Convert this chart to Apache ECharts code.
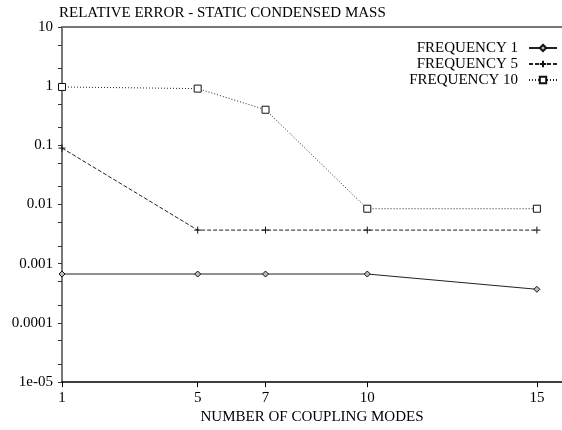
<!DOCTYPE html>
<html>
<head>
<meta charset="utf-8">
<script src="https://cdn.jsdelivr.net/npm/echarts@6/dist/echarts.min.js"></script>
<style>
  html, body { margin: 0; padding: 0; background: #fff; }
  #chart { width: 562px; height: 430px; }
</style>
</head>
<body>
<div id="chart"></div>
<script>
// Number of coupling modes (x positions)
var modes = [1, 5, 7, 10, 15];
// Relative error per retained frequency
var freq1 = [6.7e-4, 6.7e-4, 6.7e-4, 6.7e-4, 3.7e-4];
var freq5 = [0.09, 0.0037, 0.0037, 0.0037, 0.0037];
var freq10 = [0.97, 0.91, 0.40, 0.0085, 0.0085];
// Axis tick labels
var xTicks = [1, 5, 7, 10, 15];
var yTicks = [1e-5, 1e-4, 1e-3, 0.01, 0.1, 1, 10];
var yTickText = ['1e-05', '0.0001', '0.001', '0.01', '0.1', '1', '10'];
var seriesNames = ['FREQUENCY 1', 'FREQUENCY 5', 'FREQUENCY 10'];

var FONT = '"Liberation Serif", "DejaVu Serif", serif';

function pairs(ys) {
  return modes.map(function (m, i) { return [m, ys[i]]; });
}

// minor ticks at 2x and 5x of each decade
var yMinor = [];
yTicks.forEach(function (v, i) {
  yMinor.push(v);
  if (i < yTicks.length - 1) { yMinor.push(v * 2); yMinor.push(v * 5); }
});

var chart = echarts.init(document.getElementById('chart'), null, { renderer: 'canvas' });
chart.setOption({
  animation: false,
  backgroundColor: '#fff',
  title: {
    text: 'RELATIVE ERROR - STATIC CONDENSED MASS',
    left: 59, top: 6, padding: 0,
    textStyle: { fontFamily: FONT, fontSize: 15, fontWeight: 'normal', color: '#000' }
  },
  legend: {
    orient: 'vertical',
    right: 4, top: 40, padding: 0,
    align: 'right',
    itemWidth: 28, itemHeight: 8, itemGap: 0,
    textStyle: {
      fontFamily: FONT, fontSize: 15, color: '#000', width: 112, align: 'right',
      lineHeight: 16, padding: [0, 6, 0, 0]
    },
    data: seriesNames
  },
  grid: { left: 62, right: 0, top: 27, bottom: 41, containLabel: false },
  xAxis: [{
    type: 'value', min: 1, max: 15.74,
    name: 'NUMBER OF COUPLING MODES', nameLocation: 'middle', nameGap: 24,
    nameTextStyle: { fontFamily: FONT, fontSize: 15, color: '#000' },
    axisLine: { lineStyle: { color: '#000', width: 1.5 } },
    axisTick: { show: true, length: 5, customValues: xTicks, lineStyle: { color: '#000' } },
    axisLabel: { customValues: xTicks, margin: 8, fontFamily: FONT, fontSize: 15, color: '#000' },
    splitLine: { show: false }
  }, {
    type: 'value', position: 'top', min: 1, max: 15.74,
    axisLine: { show: true, lineStyle: { color: '#777', width: 2 } },
    axisTick: { show: false }, axisLabel: { show: false }, splitLine: { show: false }
  }],
  yAxis: [{
    type: 'log', logBase: 10, min: 1e-5, max: 10,
    axisLine: { show: true, lineStyle: { color: '#777', width: 2 } },
    axisTick: { show: true, length: 4, customValues: yMinor, lineStyle: { color: '#333' } },
    axisLabel: {
      customValues: yTicks, margin: 9, fontFamily: FONT, fontSize: 15, color: '#000',
      formatter: function (v) {
        for (var i = 0; i < yTicks.length; i++) {
          if (Math.abs(Math.log10(v) - Math.log10(yTicks[i])) < 1e-6) return yTickText[i];
        }
        return '';
      }
    },
    splitLine: { show: false }
  }],
  series: [{
    name: seriesNames[0], type: 'line', data: pairs(freq1),
    symbol: 'diamond', symbolSize: 6,
    lineStyle: { color: '#222', width: 1, type: 'solid' },
    itemStyle: { color: '#bbb', borderColor: '#111', borderWidth: 1 }
  }, {
    name: seriesNames[1], type: 'line', data: pairs(freq5),
    symbol: 'path://M0,5L10,5M5,0L5,10', symbolSize: 7,
    lineStyle: { color: '#222', width: 1, type: [4, 2] },
    itemStyle: { color: 'rgba(0,0,0,0)', borderColor: '#111', borderWidth: 1 }
  }, {
    name: seriesNames[2], type: 'line', data: pairs(freq10),
    symbol: 'rect', symbolSize: 7,
    lineStyle: { color: '#222', width: 1, type: [1, 2] },
    itemStyle: { color: '#fff', borderColor: '#111', borderWidth: 1 }
  }]
});
</script>
</body>
</html>
